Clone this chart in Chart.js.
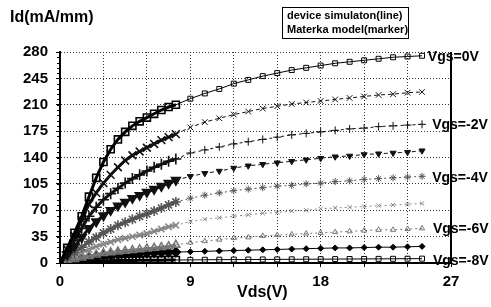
<!DOCTYPE html>
<html><head><meta charset="utf-8">
<script src="https://cdn.jsdelivr.net/npm/chart.js@4.4.0/dist/chart.umd.min.js"></script>
<style>html,body{margin:0;padding:0;background:#fff;overflow:hidden}canvas{display:block}</style>
</head><body>
<canvas id="c" width="491" height="307"></canvas>
<script>
// Vds sample points (dense region 0-8 V, then 1 V steps)
const vds = [0,0.5,1,1.5,2,2.5,3,3.5,4,4.5,5,5.5,6,6.5,7,7.5,8,9,10,11,12,13,14,15,16,17,18,19,20,21,22,23,24,25];
// Id (mA/mm) per gate voltage
const idVgs0  = [0,20,40,62,88,113,134,151,164,174,182,188,193,198,203,207,210,218,225,231,238,243,248,252,256,259,262,265,267,269,271,273,274,275];
const idVgsM1 = [0,18,36,57,78,93,106,117,127,136,143,148,153,158,163,167,171,180,187,192,197,201,205,208,211,213,215,217,219,221,223,224,226,227];
const idVgsM2 = [0,15,30,46,62,74,84,92,99,106,112,117,122,127,131,135,138,146,150,154,158,161,164,167,170,172,174,176,178,179,181,182,183,184];
const idVgsM3 = [0,11,22,34,46,55,63,70,76,81,86,90,94,98,102,106,110,115,119,122,126,129,131,133,135,137,139,141,142,144,145,146,147,149];
const idVgsM4 = [0,7,14,21,28,34,40,45,50,54,58,62,65,69,73,77,81,86,90,93,96,98,100,102,103,105,106,108,109,111,112,113,114,115];
const idVgsM5 = [0,5,10,14,18,22,25,28,31,33,35,37,39,42,45,48,50,55,58,60,62,64,66,67,69,70,72,73,74,75,76,77,78,79];
const idVgsM6 = [0,3,5,7,9,11,13,14,15,16,17,18,19,20,21,22,24,27,29,31,33,34,36,37,38,39,40,41,42,43,44,44,45,46];
const idVgsM7 = [0,2,4,6,7.5,8.5,9.5,10,11,11.5,12,12.5,13,13.5,14,14,14.5,15,15.5,16,16.5,17,17.5,18,18.5,19,19.5,20,20,20.5,21,21,21.5,22];
const idVgsM8 = [0,0.6,1.2,1.8,2.2,2.5,2.8,3,3.2,3.3,3.4,3.5,3.6,3.7,3.8,3.9,4,4.1,4.3,4.4,4.5,4.6,4.7,4.8,4.9,5,5.1,5.2,5.3,5.4,5.5,5.6,5.7,5.8];
const seriesNames = ['Vgs=0V','Vgs=-1V','Vgs=-2V','Vgs=-3V','Vgs=-4V','Vgs=-5V','Vgs=-6V','Vgs=-7V','Vgs=-8V'];
const seriesData = [idVgs0,idVgsM1,idVgsM2,idVgsM3,idVgsM4,idVgsM5,idVgsM6,idVgsM7,idVgsM8];
const xTickLabels = [0,9,18,27];
const curveLabels = ['Vgs=0V','Vgs=-2V','Vgs=-4V','Vgs=-6V','Vgs=-8V'];
const curveLabelAt = [[25.4,273],[25.7,183],[25.7,113],[25.75,45],[25.75,3]];
const legendLines = ['device simulaton(line)','Materka model(marker)'];
const yTitle = 'Id(mA/mm)';
const xTitle = 'Vds(V)';
const denseLimit = 8;

const styles = [
  {pt:'rect', rot:0, r:3.5, c:'#000', dash:[], fill:'rgba(0,0,0,0)'},
  {pt:'crossRot', rot:0, r:4, c:'#111', dash:[4,3], fill:'#111'},
  {pt:'cross', rot:0, r:4, c:'#111', dash:[3,3], fill:'#111'},
  {pt:'triangle', rot:180, r:3.5, c:'#111', dash:[4,3], fill:'#111'},
  {pt:'star', rot:0, r:3.5, c:'#555', dash:[2,3], fill:'#555'},
  {pt:'crossRot', rot:0, r:3, c:'#888', dash:[2,3], fill:'#888'},
  {pt:'triangle', rot:0, r:3, c:'#777', dash:[2,3], fill:'rgba(0,0,0,0)'},
  {pt:'rectRot', rot:0, r:3, c:'#000', dash:[], fill:'#000'},
  {pt:'rect', rot:0, r:3.5, c:'#000', dash:[], fill:'rgba(0,0,0,0)'}
];

const FONT = '"Liberation Sans", Arial, sans-serif';

const datasets = seriesData.map((arr,i)=>({
  label: seriesNames[i],
  data: vds.map((x,j)=>({x, y: arr[j]})),
  showLine: true,
  borderColor: styles[i].c,
  borderWidth: 1,
  borderDash: styles[i].dash,
  segment: {
    borderWidth: c => (c.p1.parsed.x <= denseLimit ? 3 : 1),
    borderDash: c => (c.p1.parsed.x <= denseLimit ? [] : styles[i].dash)
  },
  pointStyle: styles[i].pt,
  rotation: styles[i].rot,
  pointRadius: c => (c.raw && c.raw.x <= denseLimit && c.raw.x > 0 ? styles[i].r + 1.5 : styles[i].r),
  pointBorderColor: styles[i].c,
  pointBackgroundColor: styles[i].fill,
  pointBorderWidth: c => (c.raw && c.raw.x <= denseLimit ? 1.6 : 1),
  tension: 0
}));

const decor = {
  id:'decor',
  afterDraw(chart){
    const ctx = chart.ctx, a = chart.chartArea, xs = chart.scales.x, ys = chart.scales.y;
    ctx.save();
    ctx.strokeStyle = '#000'; ctx.lineWidth = 2; ctx.setLineDash([]);
    ctx.beginPath(); ctx.moveTo(a.right, a.top); ctx.lineTo(a.right, a.bottom); ctx.stroke();
    ctx.lineWidth = 1;
    for (let v = 0; v <= 280; v += 7) {
      const y = Math.round(ys.getPixelForValue(v)) + 0.5;
      ctx.beginPath(); ctx.moveTo(a.left - 3, y); ctx.lineTo(a.left, y); ctx.stroke();
    }
    ctx.fillStyle = '#000';
    ctx.textBaseline = 'middle'; ctx.textAlign = 'left';
    ctx.font = 'bold 16px ' + FONT;
    ctx.fillText(yTitle, 10, 18);
    ctx.fillText(xTitle, 237, 293);
    ctx.font = 'bold 14px ' + FONT;
    curveLabels.forEach((t,i)=>{
      ctx.fillText(t, xs.getPixelForValue(curveLabelAt[i][0]), ys.getPixelForValue(curveLabelAt[i][1]));
    });
    ctx.fillStyle = '#fff';
    ctx.fillRect(282, 7, 126, 31);
    ctx.strokeStyle = '#000'; ctx.lineWidth = 1;
    ctx.strokeRect(282.5, 7.5, 126, 31);
    ctx.fillStyle = '#000';
    ctx.font = 'bold 11px ' + FONT;
    ctx.fillText(legendLines[0], 287, 16);
    ctx.fillText(legendLines[1], 287, 30);
    ctx.restore();
  }
};

new Chart(document.getElementById('c'), {
  type: 'scatter',
  data: { datasets },
  options: {
    responsive: false,
    animation: false,
    devicePixelRatio: 1,
    layout: { padding: { top: 52, right: 40, left: 0, bottom: 0 } },
    plugins: { legend: { display: false }, tooltip: { enabled: false } },
    scales: {
      x: {
        type: 'linear', min: 0, max: 27,
        afterFit(s){ s.height = 44; },
        ticks: {
          stepSize: 3, autoSkip: false, maxRotation: 0, padding: 6, color: '#000',
          font: { family: FONT, size: 15, weight: 'bold' },
          callback: (v)=> xTickLabels.includes(v) ? String(v) : ''
        },
        grid: { color: '#333', lineWidth: 1, tickLength: 4, tickColor: '#000', tickBorderDash: [] },
        border: { display: true, color: '#000', width: 2, dash: [1,2] }
      },
      y: {
        type: 'linear', min: 0, max: 280,
        afterFit(s){ s.width = 60; },
        ticks: {
          stepSize: 35, padding: 8, color: '#000',
          font: { family: FONT, size: 15, weight: 'bold' }
        },
        grid: { color: '#333', lineWidth: 1, tickLength: 4, tickColor: '#000', tickBorderDash: [] },
        border: { display: true, color: '#000', width: 2, dash: [1,2] }
      }
    }
  },
  plugins: [decor]
});
</script>
</body></html>
